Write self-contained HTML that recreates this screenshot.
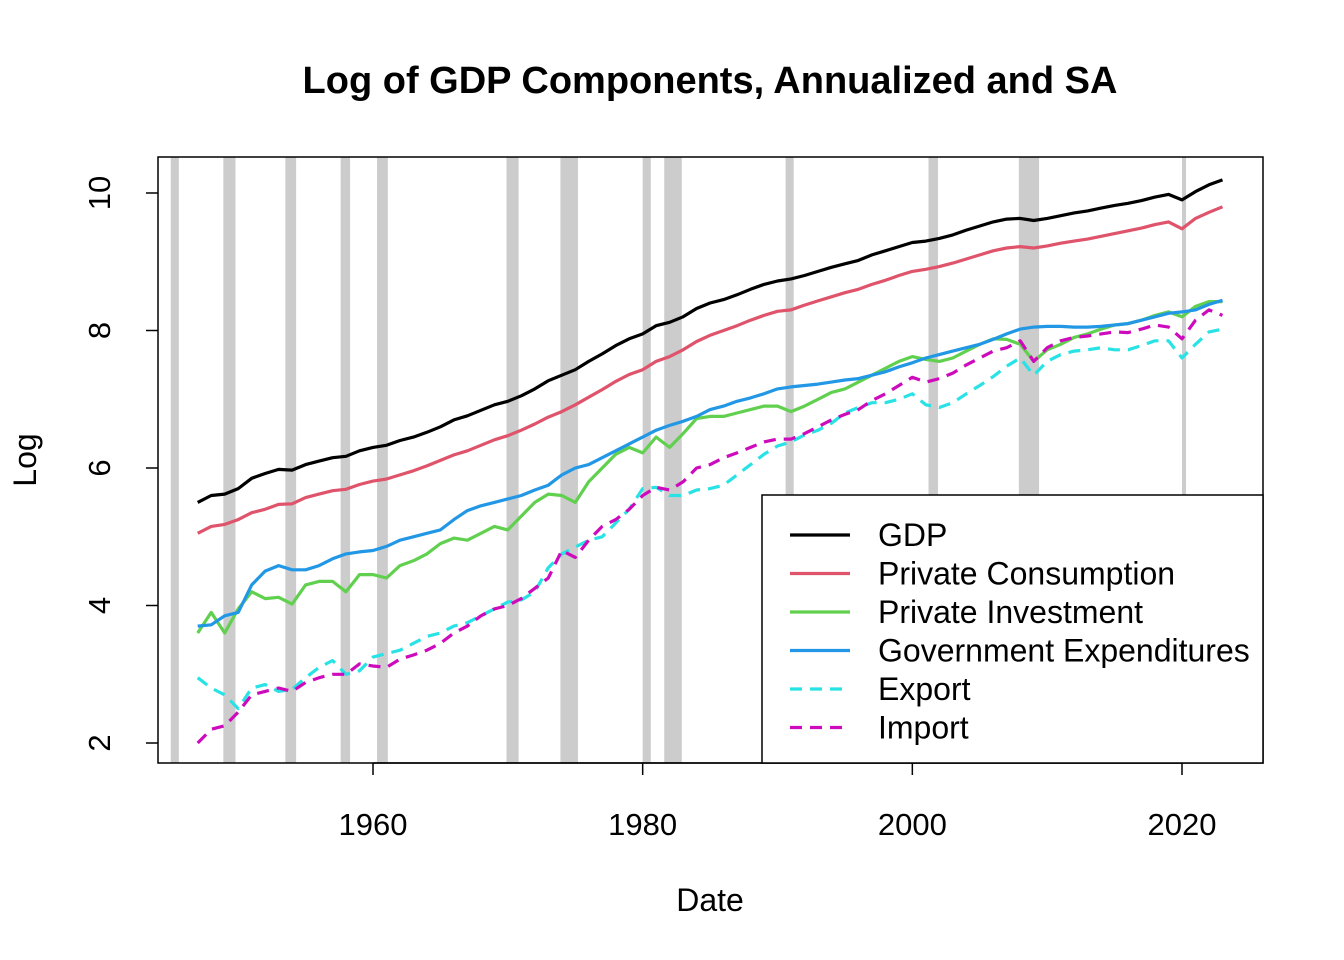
<!DOCTYPE html>
<html><head><meta charset="utf-8"><style>
body{margin:0;background:#fff}
svg{display:block;font-family:"Liberation Sans",Arial,sans-serif}
</style></head><body>
<svg id="chart" width="1344" height="960" viewBox="0 0 1344 960">
<text x="710" y="93" text-anchor="middle" font-size="38" font-weight="bold">Log of GDP Components, Annualized and SA</text>
<g id="rec"></g>
<g id="series"></g>
<g id="axes"></g>
<text x="710" y="911" text-anchor="middle" font-size="32">Date</text>
<text transform="translate(36,460) rotate(-90)" text-anchor="middle" font-size="32">Log</text>
<g id="legend"></g>
</svg>
<script>
const years=[];for(let y=1947;y<=2023;y++)years.push(y);
const gdp=[5.5,5.6,5.62,5.7,5.85,5.92,5.98,5.97,6.05,6.1,6.15,6.17,6.25,6.3,6.33,6.4,6.45,6.52,6.6,6.7,6.76,6.84,6.92,6.97,7.05,7.15,7.27,7.35,7.43,7.55,7.66,7.78,7.88,7.95,8.07,8.12,8.2,8.32,8.4,8.45,8.52,8.6,8.67,8.72,8.75,8.8,8.86,8.92,8.97,9.02,9.1,9.16,9.22,9.28,9.3,9.34,9.39,9.46,9.52,9.58,9.62,9.63,9.6,9.63,9.67,9.71,9.74,9.78,9.82,9.85,9.89,9.94,9.98,9.9,10.02,10.12,10.19];
const cons=[5.05,5.15,5.18,5.25,5.35,5.4,5.47,5.48,5.57,5.62,5.67,5.69,5.76,5.81,5.84,5.9,5.96,6.03,6.11,6.19,6.25,6.33,6.41,6.47,6.55,6.64,6.74,6.82,6.92,7.03,7.14,7.26,7.36,7.43,7.55,7.62,7.72,7.84,7.93,8.0,8.07,8.15,8.22,8.28,8.3,8.37,8.43,8.49,8.55,8.6,8.67,8.73,8.8,8.86,8.89,8.93,8.98,9.04,9.1,9.16,9.2,9.22,9.2,9.23,9.27,9.3,9.33,9.37,9.41,9.45,9.49,9.54,9.58,9.48,9.63,9.72,9.8];
const inv=[3.6,3.9,3.6,3.95,4.2,4.1,4.12,4.02,4.3,4.35,4.35,4.2,4.45,4.45,4.4,4.58,4.65,4.75,4.9,4.98,4.95,5.05,5.15,5.1,5.3,5.5,5.62,5.6,5.5,5.8,6.0,6.2,6.3,6.22,6.45,6.3,6.5,6.72,6.75,6.75,6.8,6.85,6.9,6.9,6.82,6.9,7.0,7.1,7.15,7.25,7.35,7.45,7.55,7.62,7.58,7.55,7.6,7.7,7.8,7.88,7.87,7.8,7.55,7.72,7.8,7.9,7.95,8.02,8.08,8.1,8.15,8.22,8.27,8.2,8.35,8.42,8.42];
const gov=[3.7,3.72,3.85,3.9,4.3,4.5,4.58,4.52,4.52,4.58,4.68,4.75,4.78,4.8,4.86,4.95,5.0,5.05,5.1,5.25,5.38,5.45,5.5,5.55,5.6,5.68,5.75,5.9,6.0,6.05,6.15,6.25,6.35,6.45,6.55,6.62,6.68,6.75,6.85,6.9,6.97,7.02,7.08,7.15,7.18,7.2,7.22,7.25,7.28,7.3,7.35,7.4,7.47,7.53,7.6,7.65,7.7,7.75,7.8,7.87,7.95,8.02,8.05,8.06,8.06,8.05,8.05,8.06,8.08,8.1,8.15,8.2,8.25,8.27,8.3,8.38,8.44];
const expo=[2.95,2.8,2.7,2.5,2.8,2.85,2.75,2.78,2.95,3.1,3.2,3.0,3.05,3.25,3.3,3.35,3.45,3.55,3.6,3.7,3.75,3.85,3.95,4.05,4.08,4.2,4.55,4.75,4.85,4.95,5.0,5.2,5.4,5.7,5.72,5.6,5.6,5.68,5.7,5.75,5.9,6.05,6.2,6.32,6.38,6.48,6.55,6.65,6.8,6.88,6.95,6.95,7.0,7.08,6.92,6.88,6.95,7.08,7.2,7.33,7.48,7.6,7.35,7.55,7.65,7.7,7.72,7.75,7.72,7.72,7.78,7.85,7.85,7.6,7.8,7.98,8.02];
const impo=[2.0,2.2,2.25,2.45,2.7,2.75,2.8,2.75,2.88,2.95,3.0,3.0,3.15,3.12,3.1,3.22,3.28,3.35,3.45,3.6,3.7,3.85,3.95,4.0,4.1,4.25,4.4,4.8,4.7,4.95,5.15,5.25,5.4,5.6,5.72,5.68,5.8,6.0,6.05,6.15,6.22,6.3,6.38,6.42,6.42,6.5,6.6,6.7,6.78,6.85,6.98,7.08,7.2,7.32,7.25,7.3,7.38,7.5,7.6,7.7,7.75,7.85,7.55,7.75,7.85,7.9,7.92,7.95,7.98,7.97,8.02,8.08,8.05,7.88,8.15,8.3,8.22];
const recStart=[1945.0,1948.9,1953.5,1957.6,1960.3,1969.9,1973.9,1980.0,1981.6,1990.6,2001.2,2007.9,2020.0];
const recEnd=[1945.6,1949.8,1954.3,1958.3,1961.1,1970.8,1975.2,1980.6,1982.9,1991.2,2001.9,2009.4,2020.3];
const xTicks=[1960,1980,2000,2020];
const yTicks=[2,4,6,8,10];
const names=["GDP","Private Consumption","Private Investment","Government Expenditures","Export","Import"];
const colors=["#000000","#DF536B","#61D04F","#2297E6","#28E2E5","#CD0BBC"];
const dashed=[false,false,false,false,true,true];
const L=158,R=1263,T=157,B=763;
const xs=y=>373+(y-1960)*(1182-373)/60;
const ys=v=>743-(v-2)*(743-193)/8;
const NS="http://www.w3.org/2000/svg";
function mk(t,p,a){const e=document.createElementNS(NS,t);for(const k in a)e.setAttribute(k,a[k]);p.appendChild(e);return e;}
const rec=document.getElementById('rec');
recStart.forEach((s,i)=>{const r=mk('rect',rec,{x:xs(s),y:T,width:Math.max(2,xs(recEnd[i])-xs(s)),height:B-T,fill:'#cccccc'});

});
const ser=document.getElementById('series');
[gdp,cons,inv,gov,expo,impo].forEach((d,i)=>{
 const pts=d.map((v,j)=>xs(years[j]).toFixed(1)+','+ys(v).toFixed(1)).join(' ');
 const p=mk('polyline',ser,{points:pts,fill:'none',stroke:colors[i],'stroke-width':3.2,'stroke-linejoin':'round'});
 if(dashed[i])p.setAttribute('stroke-dasharray','12 8');
 
 
});
const ax=document.getElementById('axes');
mk('rect',ax,{x:L,y:T,width:R-L,height:B-T,fill:'none',stroke:'#000','stroke-width':1.5});
xTicks.forEach(t=>{mk('line',ax,{x1:xs(t),x2:xs(t),y1:B,y2:B+12,stroke:'#000','stroke-width':1.5});
 const tx=mk('text',ax,{x:xs(t),y:B+72,'text-anchor':'middle','font-size':31});tx.textContent=t;
 
 });
mk('line',ax,{x1:xs(1960),x2:xs(2020),y1:B,y2:B,stroke:'#000','stroke-width':1.5});
yTicks.forEach(t=>{mk('line',ax,{x1:L-12,x2:L,y1:ys(t),y2:ys(t),stroke:'#000','stroke-width':1.5});
 const tx=mk('text',ax,{transform:`translate(110,${ys(t)}) rotate(-90)`,'text-anchor':'middle','font-size':31});tx.textContent=t;
 
 });
const lg=document.getElementById('legend');
mk('rect',lg,{x:762,y:495,width:501,height:268,fill:'#fff',stroke:'#000','stroke-width':1.5});
names.forEach((n,i)=>{const y=535+i*38.5;
 const l=mk('line',lg,{x1:790,x2:850,y1:y,y2:y,stroke:colors[i],'stroke-width':3.2});
 if(dashed[i])l.setAttribute('stroke-dasharray','12 8');
 
 
 const tx=mk('text',lg,{x:878,y:y+11,'font-size':32});tx.textContent=n;
 
 });
</script>
</body></html>
